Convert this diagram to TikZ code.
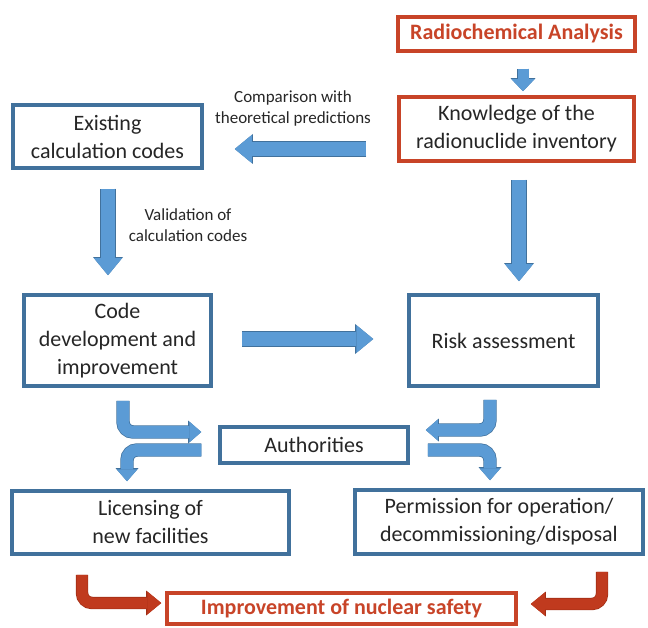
\documentclass[tikz,border=0pt]{standalone}
\usepackage{fontspec}
\setmainfont{Carlito}
\usetikzlibrary{arrows.meta}

\definecolor{boxblue}{RGB}{65,113,156}
\definecolor{arrowblue}{RGB}{91,155,213}
\definecolor{arrowedge}{RGB}{65,113,156}
\definecolor{boxred}{RGB}{200,68,40}
\definecolor{arrowred}{RGB}{192,58,30}
\definecolor{arrowrededge}{RGB}{160,45,20}
\definecolor{ink}{RGB}{38,38,38}

\tikzset{
  box/.style={draw=boxblue, line width=3.5pt, fill=white, inner sep=0pt,
    align=center, text=ink, font=\fontsize{22}{28}\selectfont},
  redbox/.style={box, draw=boxred},
  note/.style={align=center, text=ink, font=\fontsize{17}{21}\selectfont},
  % block arrow: shaft / head width / head length / outlined shaft / outlined head width / outlined head length
  bluearrow/.style args={#1/#2/#3/#4/#5/#6}{
    line width=#1, draw=arrowblue, line cap=butt,
    -{Triangle[length=#3, width=#2, line width=0pt, fill=arrowblue, color=arrowblue]},
    preaction={draw=arrowedge, line width=#4,
      -{Triangle[length=#6, width=#5, line width=0pt, fill=arrowedge, color=arrowedge]}}},
  redarrow/.style args={#1/#2/#3/#4/#5/#6}{
    line width=#1, draw=arrowred, line cap=butt,
    -{Triangle[length=#3, width=#2, line width=0pt, fill=arrowred, color=arrowred]},
    preaction={draw=arrowrededge, line width=#4,
      -{Triangle[length=#6, width=#5, line width=0pt, fill=arrowrededge, color=arrowrededge]}}},
  bigarrow/.style={bluearrow={14pt/28pt/17pt/15.4pt/30pt/18.2pt}},
  smallarrow/.style={bluearrow={11pt/23pt/12pt/12.4pt/25pt/13.2pt}},
  bentarrow/.style={bluearrow={12pt/21pt/12pt/13.4pt/23pt/13.2pt}, rounded corners=10pt},
  bentred/.style={redarrow={11pt/23pt/14pt/12.4pt/25pt/15.2pt}, rounded corners=10pt},
}

\begin{document}
\begin{tikzpicture}[x=1pt, y=-1pt]
  \useasboundingbox (0,0) rectangle (648,628);

  % boxes
  \node[redbox, minimum width=237pt, minimum height=34pt, text=boxred,
        font=\fontsize{22}{28}\selectfont\bfseries] (rad) at (516.5,34) {Radiochemical Analysis};
  \node[redbox, minimum width=235pt, minimum height=64pt] (know) at (516.5,129)
        {Knowledge of the\\radionuclide inventory};
  \node[box, minimum width=189pt, minimum height=63pt] (exist) at (107.5,136.5)
        {Existing\\calculation codes};
  \node[box, minimum width=187pt, minimum height=91pt] (code) at (117.5,340.5)
        {Code\\development and\\improvement};
  \node[box, minimum width=189pt, minimum height=91pt] (risk) at (503.5,340.5)
        {Risk assessment};
  \node[box, minimum width=188pt, minimum height=36pt] (auth) at (314,445)
        {Authorities};
  \node[box, minimum width=277pt, minimum height=63pt] (lic) at (150.5,522.5)
        {Licensing of\\new facilities};
  \node[box, minimum width=288pt, minimum height=64pt] (perm) at (499,522)
        {Permission for operation/\\decommissioning/disposal};
  \node[redbox, minimum width=349pt, minimum height=31pt, text=boxred,
        font=\fontsize{22}{28}\selectfont\bfseries] (imp) at (341.5,608.5)
        {Improvement of nuclear safety};

  % arrow labels
  \node[note] (cmp) at (293,108) {Comparison with\\theoretical predictions};
  \node[note] (val) at (188,225) {Validation of\\calculation codes};

  % straight arrows
  \draw[smallarrow, shorten <=16pt, shorten >=4pt]
    ([xshift=6.5pt]rad.south) -- ([xshift=6.5pt]know.north);
  \draw[bigarrow, shorten <=17pt, shorten >=12pt]
    ([xshift=2.5pt]know.south) -- ([xshift=15.5pt]risk.north);
  \draw[bigarrow, shorten <=31pt, shorten >=31pt]
    ([yshift=-20pt]know.west) -- ([yshift=-12.5pt]exist.east);
  \draw[bigarrow, shorten <=19pt, shorten >=18pt]
    ([xshift=0.5pt]exist.south) -- ([xshift=-9.5pt]code.north);
  \draw[bigarrow, shorten <=29pt, shorten >=34pt]
    ([yshift=1.5pt]code.east) -- ([yshift=1.5pt]risk.west);

  % bent arrows to and from the authorities
  \draw[bentarrow, shorten <=13pt, shorten >=17pt]
    ([xshift=5.5pt]code.south) |- ([yshift=13pt]auth.west);
  \draw[bentarrow, shorten <=17pt, shorten >=8pt]
    ([yshift=-5pt]auth.west) -| ([xshift=-23.5pt]lic.north);
  \draw[bentarrow, shorten <=12pt, shorten >=16pt]
    ([xshift=-13.5pt]risk.south) |- ([yshift=15pt]auth.east);
  \draw[bentarrow, shorten <=18pt, shorten >=8pt]
    ([yshift=-5pt]auth.east) -| ([xshift=-9pt]perm.north);

  % red arrows to nuclear safety
  \draw[bentred, shorten <=19pt, shorten >=4pt]
    ([xshift=-68.5pt]lic.south) |- ([yshift=5.5pt]imp.west);
  \draw[bentred, shorten <=16pt, shorten >=13pt]
    ([xshift=103pt]perm.south) |- ([yshift=4.5pt]imp.east);
\end{tikzpicture}
\end{document}
